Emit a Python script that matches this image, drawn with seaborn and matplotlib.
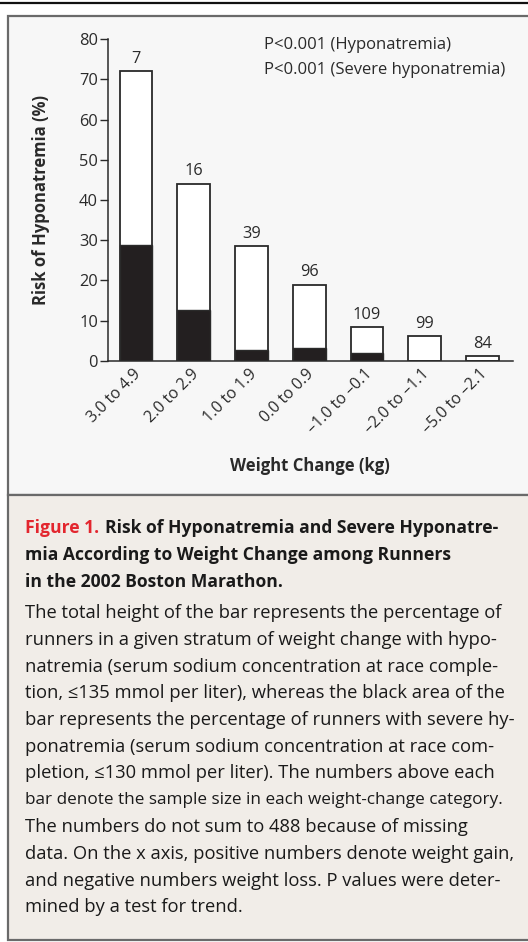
import matplotlib
matplotlib.use("Agg")
import matplotlib.pyplot as plt
import matplotlib.text as mtext
import seaborn as sns
import pandas as pd
from matplotlib.patches import Rectangle
from matplotlib.lines import Line2D

# ---- data ----
categories = ["3.0 to 4.9", "2.0 to 2.9", "1.0 to 1.9", "0.0 to 0.9",
              "\u20131.0 to \u20130.1", "\u20132.0 to \u20131.1", "\u20135.0 to \u20132.1"]
hyponatremia = [72.0, 44.1, 28.5, 18.9, 8.3, 6.1, 1.2]
severe = [28.9, 12.7, 2.7, 3.2, 1.9, 0.0, 0.0]
sample_sizes = [7, 16, 39, 96, 109, 99, 84]
yticks = [0, 10, 20, 30, 40, 50, 60, 70, 80]
p_lines = ["P<0.001 (Hyponatremia)", "P<0.001 (Severe hyponatremia)"]
title_red = "Figure 1."
title_lines = ["Risk of Hyponatremia and Severe Hyponatre-",
               "mia According to Weight Change among Runners",
               "in the 2002 Boston Marathon."]
body_lines = [
    "The total height of the bar represents the percentage of",
    "runners in a given stratum of weight change with hypo-",
    "natremia (serum sodium concentration at race comple-",
    "tion, \u2264135 mmol per liter), whereas the black area of the",
    "bar represents the percentage of runners with severe hy-",
    "ponatremia (serum sodium concentration at race com-",
    "pletion, \u2264130 mmol per liter). The numbers above each",
    "bar denote the sample size in each weight-change category.",
    "The numbers do not sum to 488 because of missing",
    "data. On the x axis, positive numbers denote weight gain,",
    "and negative numbers weight loss. P values were deter-",
    "mined by a test for trend.",
]

df = pd.DataFrame({"cat": categories, "hypo": hyponatremia, "severe": severe})

sns.set_theme(style="white")
FONT = ["Open Sans", "DejaVu Sans"]
plt.rcParams["font.family"] = FONT

W, H = 528, 942
fig = plt.figure(figsize=(W / 100, H / 100), dpi=100)
fig.patch.set_facecolor("white")

def fx(x):
    return x / W

def fy(y):
    return 1 - y / H

# panels
fig.add_artist(Rectangle((fx(8), fy(495)), fx(540) - fx(8), fy(16) - fy(495),
                         transform=fig.transFigure, facecolor="#f7f7f7",
                         edgecolor="#6a6a6a", lw=1.6, zorder=0))
fig.add_artist(Rectangle((fx(8), fy(940)), fx(540) - fx(8), fy(495) - fy(940),
                         transform=fig.transFigure, facecolor="#f1ede8",
                         edgecolor="#6a6a6a", lw=1.6, zorder=0))
fig.add_artist(Line2D([0, 1], [fy(2.7), fy(2.7)], transform=fig.transFigure,
                      color="#111111", lw=1.6))

ax = fig.add_axes([fx(107.7), fy(360.7), fx(513) - fx(107.7), fy(39.3) - fy(360.7)])
ax.set_facecolor("none")

ink = "#2a2a2a"
sns.barplot(data=df, x="cat", y="hypo", ax=ax, color="white", edgecolor=ink,
            linewidth=1.3, width=0.565, saturation=1)
sns.barplot(data=df, x="cat", y="severe", ax=ax, color="#231f20", edgecolor=ink,
            linewidth=1.0, width=0.565, saturation=1)

ax.set_xlim(-0.49, 6.53)
ax.set_ylim(0, 80)
ax.set_yticks(yticks)
ax.set_yticklabels([str(t) for t in yticks], fontsize=11.8, color=ink)
ax.tick_params(axis="y", left=True, length=5.5, width=1.0, color=ink, pad=1.5)
ax.tick_params(axis="x", bottom=False, length=0, pad=4)
for s in ["top", "right"]:
    ax.spines[s].set_visible(False)
for s in ["left", "bottom"]:
    ax.spines[s].set_color(ink)
    ax.spines[s].set_linewidth(1.1)

ax.set_xticks(range(len(categories)))
ax.set_xticklabels(categories, rotation=45, ha="right", va="top",
                   rotation_mode="anchor", fontsize=11.5, color=ink)
for lbl in ax.get_xticklabels():
    lbl.set_transform(lbl.get_transform() + matplotlib.transforms.ScaledTranslation(
        -3 / 100, 0, fig.dpi_scale_trans))
ax.set_xlabel("Weight Change (kg)", fontsize=12, fontweight="bold", color=ink, labelpad=14)
ax.set_ylabel("Risk of Hyponatremia (%)", fontsize=12, fontweight="bold", color=ink, labelpad=21)

for i, (t, n) in enumerate(zip(hyponatremia, sample_sizes)):
    ax.annotate(str(n), xy=(i, t), xytext=(0, 6), textcoords="offset points",
                ha="center", va="baseline", fontsize=11.8, color=ink)

ax.text(0.386, 0.981, p_lines[0], transform=ax.transAxes, fontsize=12, color=ink,
        ha="left", va="center")
ax.text(0.386, 0.906, p_lines[1], transform=ax.transAxes, fontsize=12, color=ink,
        ha="left", va="center")

# caption
cap_fs = 12.6
body_fs = 13.2
rt = fig.text(fx(25), fy(528), title_red, fontsize=cap_fs, fontweight="bold",
              color="#e3262e", ha="left", va="center")
fig.add_artist(mtext.Annotation(
    title_lines[0], xy=(1, 0), xycoords=rt, xytext=(4, 0), textcoords="offset points",
    ha="left", va="bottom", fontsize=cap_fs, fontweight="bold", color="#1a1a1a"))
for k, line in enumerate(title_lines[1:]):
    fig.text(fx(25), fy(555 + 27 * k), line, fontsize=cap_fs, fontweight="bold",
             color="#1a1a1a", ha="left", va="center")
for k, line in enumerate(body_lines):
    fs = body_fs if k != 7 else 12.3
    fig.text(fx(25), fy(613 + 26.75 * k), line, fontsize=fs, color="#1a1a1a",
             ha="left", va="center")

fig.savefig("out.png", dpi=100)
